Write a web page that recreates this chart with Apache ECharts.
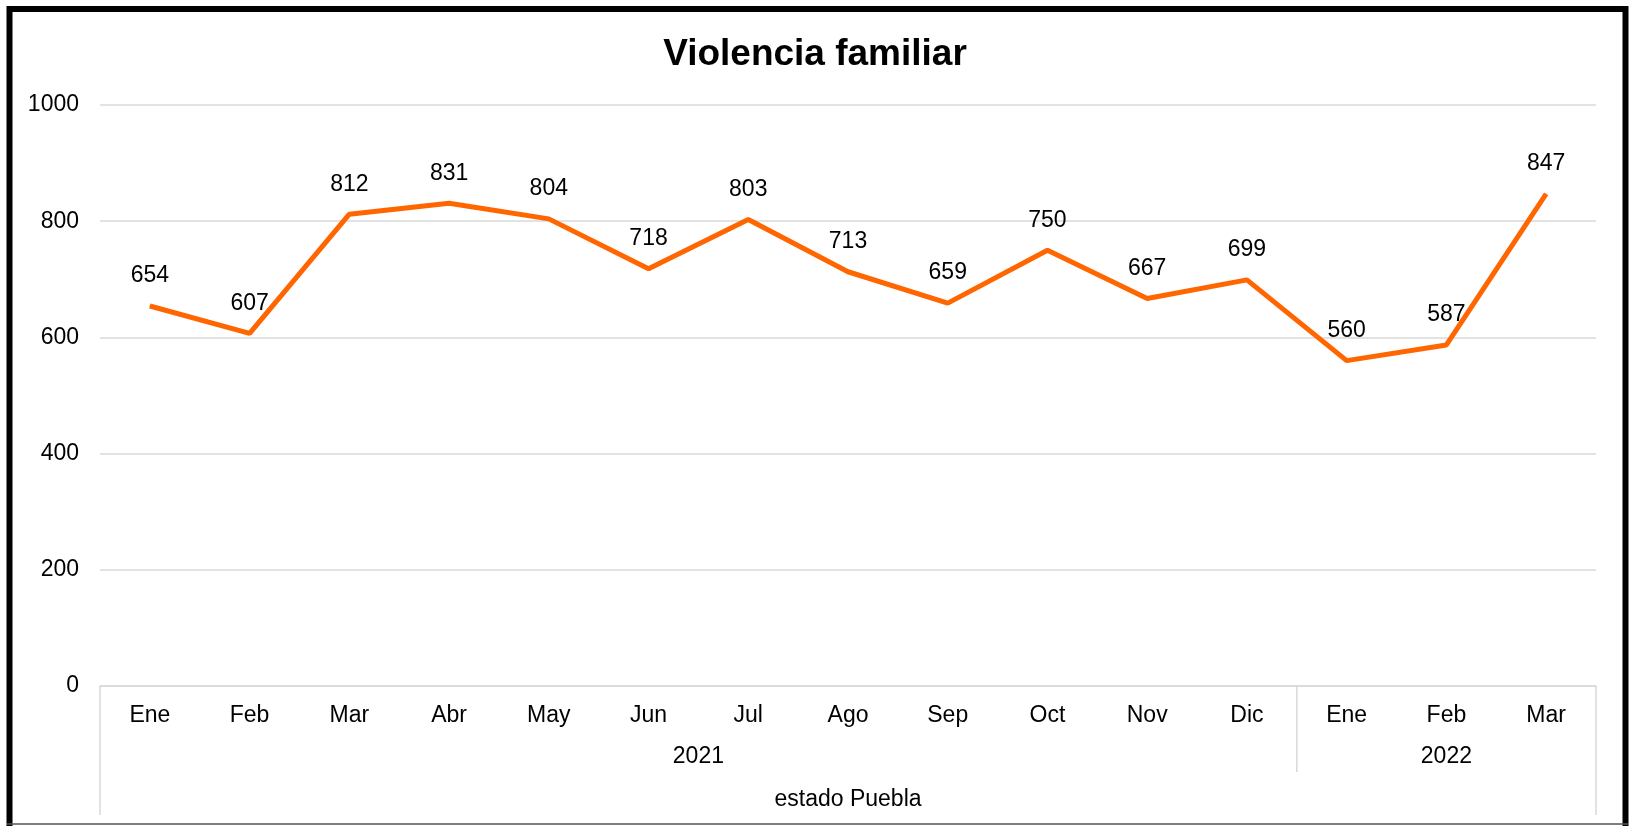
<!DOCTYPE html>
<html>
<head>
<meta charset="utf-8">
<script src="https://cdn.jsdelivr.net/npm/echarts@6/dist/echarts.min.js"></script>
<style>
    html, body { margin: 0; padding: 0; background: #fff; }
    #chart { width: 1630px; height: 826px; }
</style>
</head>
<body>
<div id="chart"></div>
<script>
    // datos
    const months = ['Ene', 'Feb', 'Mar', 'Abr', 'May', 'Jun', 'Jul', 'Ago', 'Sep', 'Oct', 'Nov', 'Dic', 'Ene', 'Feb', 'Mar']
    const values = [654, 607, 812, 831, 804, 718, 803, 713, 659, 750, 667, 699, 560, 587, 847]
    const years = ['2021', '2022']
    const yearCounts = [12, 3]
    const groupLabel = 'estado Puebla'
    const yTicks = [0, 200, 400, 600, 800, 1000]

    const font = "'Liberation Sans', Arial, sans-serif"
    const chart = echarts.init(document.getElementById('chart'))

    chart.setOption({
        animation: false,
        backgroundColor: '#fff',
        title: {
            text: 'Violencia familiar',
            left: 'center',
            top: 31,
            textStyle: { fontFamily: font, fontSize: 37, fontWeight: 'bold', color: '#000' }
        },
        grid: { left: 100, right: 34, top: 105, bottom: 140 },
        xAxis: {
            type: 'category',
            data: months,
            boundaryGap: true,
            axisLine: { lineStyle: { color: '#d9d9d9', width: 1.5 } },
            axisTick: { show: false },
            axisLabel: { fontFamily: font, fontSize: 23, color: '#000', margin: 18, interval: 0 }
        },
        yAxis: {
            type: 'value',
            min: yTicks[0],
            max: yTicks[yTicks.length - 1],
            interval: 200,
            axisLine: { show: false },
            axisTick: { show: false },
            axisLabel: {
                fontFamily: font, fontSize: 23, color: '#000', margin: 21,
                formatter: v => String(v)
            },
            splitLine: { lineStyle: { color: '#d9d9d9', width: 1.5 } }
        },
        series: [{
            type: 'line',
            data: values,
            symbol: 'circle',
            symbolSize: 1,
            itemStyle: { color: '#ff6600' },
            lineStyle: { color: '#ff6600', width: 5 },
            label: {
                show: true,
                position: 'top',
                distance: 18,
                fontFamily: font,
                fontSize: 23,
                color: '#000'
            }
        }]
    })

    // ejes jerárquicos: separadores y etiquetas de año
    const x0 = chart.convertToPixel({ xAxisIndex: 0 }, 0)
    const x1 = chart.convertToPixel({ xAxisIndex: 0 }, 1)
    const step = x1 - x0
    const yAxisZero = chart.convertToPixel({ yAxisIndex: 0 }, 0)
    const boundary = i => x0 + (i - 0.5) * step

    const graphics = []
    // marco del gráfico
    graphics.push({ type: 'polyline', shape: { points: [[9.5, 826], [9.5, 9], [1625.5, 9], [1625.5, 826]] }, style: { stroke: '#000', lineWidth: 6, fill: null } })
    graphics.push({ type: 'line', shape: { x1: 7, y1: 824, x2: 1628, y2: 824 }, style: { stroke: '#555', lineWidth: 1.5 } })

    const leftX = boundary(0)
    const rightX = boundary(months.length)
    graphics.push({ type: 'line', shape: { x1: leftX, y1: yAxisZero, x2: leftX, y2: yAxisZero + 129 }, style: { stroke: '#d9d9d9', lineWidth: 1.5 } })
    graphics.push({ type: 'line', shape: { x1: rightX, y1: yAxisZero, x2: rightX, y2: yAxisZero + 129 }, style: { stroke: '#d9d9d9', lineWidth: 1.5 } })

    let start = 0
    years.forEach((yr, k) => {
        const end = start + yearCounts[k]
        if (k > 0) {
            const bx = boundary(start)
            graphics.push({ type: 'line', shape: { x1: bx, y1: yAxisZero, x2: bx, y2: yAxisZero + 86 }, style: { stroke: '#d9d9d9', lineWidth: 1.5 } })
        }
        graphics.push({
            type: 'text',
            x: (boundary(start) + boundary(end)) / 2,
            y: yAxisZero + 71,
            style: { text: yr, fontFamily: font, fontSize: 23, fill: '#000', align: 'center', verticalAlign: 'middle' }
        })
        start = end
    })

    graphics.push({
        type: 'text',
        x: (leftX + rightX) / 2,
        y: yAxisZero + 114,
        style: { text: groupLabel, fontFamily: font, fontSize: 23, fill: '#000', align: 'center', verticalAlign: 'middle' }
    })

    chart.setOption({ graphic: graphics })
</script>
</body>
</html>
